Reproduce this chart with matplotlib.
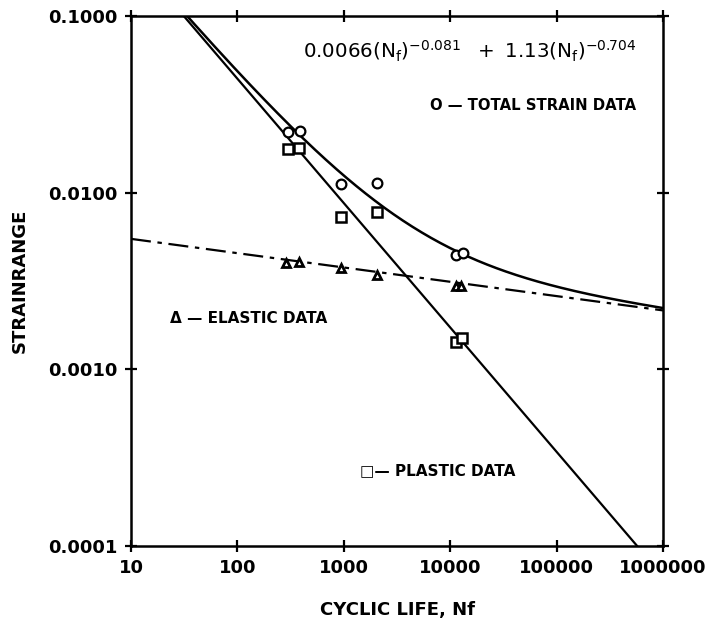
import numpy as np
import matplotlib
matplotlib.use("Agg")
import matplotlib.pyplot as plt
from matplotlib.ticker import FixedLocator, FixedFormatter, NullLocator

# ---- data ----
total_n = [299, 387, 942, 2051, 11350, 13190]
total_strain = [0.0221, 0.0223, 0.0112, 0.01135, 0.00444, 0.00456]

plastic_n = [299, 379, 942, 2051, 11350, 12900]
plastic_strain = [0.01766, 0.0179, 0.00729, 0.00778, 0.00143, 0.00151]

elastic_n = [288, 379, 942, 2051, 11350, 12500]
elastic_strain = [0.0040, 0.00405, 0.00375, 0.00342, 0.00296, 0.00296]

# fitted coefficients shown in the chart
elastic_coef, elastic_exp = 0.0066, -0.081
plastic_coef, plastic_exp = 1.13, -0.704

x_ticks = [10, 100, 1000, 10000, 100000, 1000000]
x_tick_labels = ["10", "100", "1000", "10000", "100000", "1000000"]
y_ticks = [0.0001, 0.001, 0.01, 0.1]
y_tick_labels = ["0.0001", "0.0010", "0.0100", "0.1000"]

fig = plt.figure(figsize=(7.11, 6.23), dpi=100)
ax = fig.add_axes([131/711, 1-546/623, (663-131)/711, (546-16)/623])
ax.set_xscale("log")
ax.set_yscale("log")
ax.set_xlim(10, 1e6)
ax.set_ylim(1e-4, 0.1)

n = np.logspace(1, 6, 400)
el = elastic_coef * n ** elastic_exp
pl = plastic_coef * n ** plastic_exp
ax.plot(n, pl, color="black", lw=1.6)
ax.plot(n, el + pl, color="black", lw=1.8)
ax.plot(n, el, color="black", lw=1.6, dashes=(9, 3, 2, 3))

ax.plot(total_n, total_strain, linestyle="none", marker="o", ms=7, mfc="white",
        mec="black", mew=1.6)
ax.plot(plastic_n, plastic_strain, linestyle="none", marker="s", ms=7, mfc="white",
        mec="black", mew=1.8)
ax.plot(elastic_n, elastic_strain, linestyle="none", marker="^", ms=6, mfc="white",
        mec="black", mew=2.0)

for s in ax.spines.values():
    s.set_linewidth(1.8)

ax.xaxis.set_major_locator(FixedLocator(x_ticks))
ax.xaxis.set_major_formatter(FixedFormatter(x_tick_labels))
ax.yaxis.set_major_locator(FixedLocator(y_ticks))
ax.yaxis.set_major_formatter(FixedFormatter(y_tick_labels))
ax.xaxis.set_minor_locator(NullLocator())
ax.yaxis.set_minor_locator(NullLocator())
ax.tick_params(which="major", direction="inout", length=9, width=1.6,
               top=True, right=True, labelsize=13, pad=5)
for lab in ax.get_xticklabels() + ax.get_yticklabels():
    lab.set_fontweight("bold")

ax.set_xlabel("CYCLIC LIFE, Nf", fontsize=13, fontweight="bold", labelpad=17)
ax.set_ylabel("STRAINRANGE", fontsize=13, fontweight="bold", labelpad=14)

# convert pixel positions (from top-left) to figure coords
def figxy(px, py):
    return px/711, 1-py/623

fig.text(*figxy(303, 59), r"$\mathregular{0.0066(N_f)^{-0.081}\ \ +\ 1.13(N_f)^{-0.704}}$",
         fontsize=14.3, va="baseline", ha="left")

fig.text(*figxy(430, 110), "O — TOTAL STRAIN DATA", fontsize=10.7, fontweight="bold",
         va="baseline", ha="left")
fig.text(*figxy(170, 323), "Δ — ELASTIC DATA", fontsize=11, fontweight="bold",
         va="baseline", ha="left")
fig.text(*figxy(360, 475), "□— PLASTIC DATA", fontsize=11, fontweight="bold",
         va="baseline", ha="left")

fig.savefig("out.png", dpi=100)
